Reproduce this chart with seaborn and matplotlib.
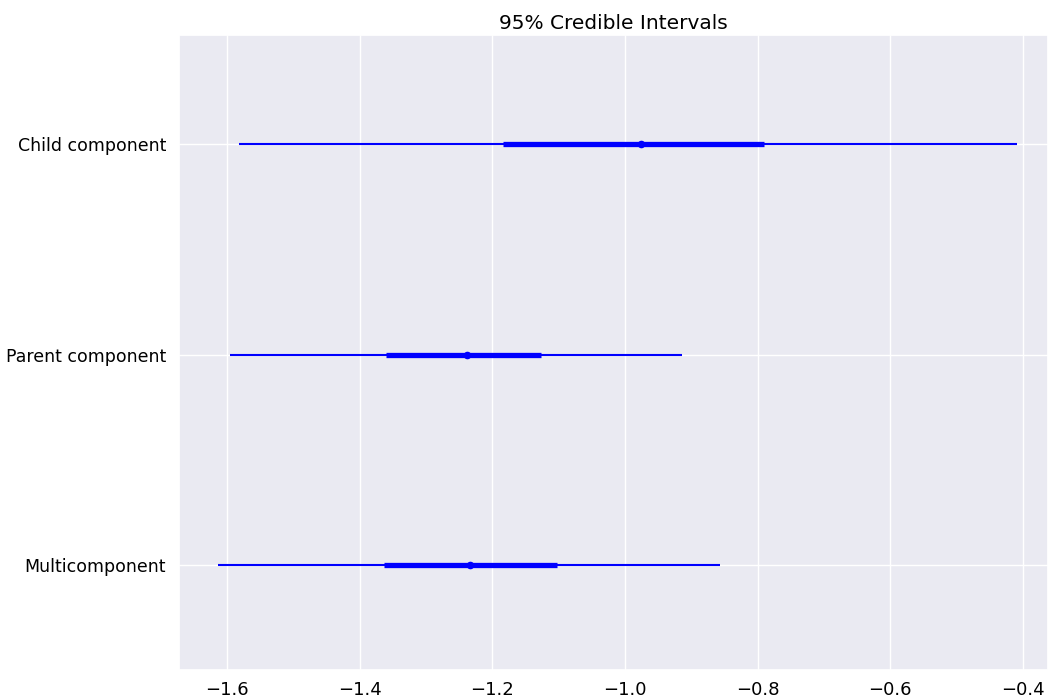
import numpy as np
import pandas as pd
import matplotlib
matplotlib.use("Agg")
import matplotlib.pyplot as plt
import seaborn as sns

# Data (bottom row first)
labels = ["Multicomponent", "Parent component", "Child component"]
median = [-1.233, -1.238, -0.976]
hdi50_low = [-1.363, -1.360, -1.184]
hdi50_high = [-1.102, -1.126, -0.790]
hdi95_low = [-1.614, -1.595, -1.582]
hdi95_high = [-0.856, -0.914, -0.409]

sns.set_theme(style="darkgrid", rc={"text.color": "black", "xtick.color": "black",
                                    "ytick.color": "black", "axes.labelcolor": "black"})
plt.rcParams["font.family"] = ["DejaVu Sans"]

df = pd.DataFrame({
    "label": labels,
    "pos": np.arange(len(labels)),
    "median": median,
    "lo50": hdi50_low,
    "hi50": hdi50_high,
    "lo95": hdi95_low,
    "hi95": hdi95_high,
})

fig = plt.figure(figsize=(10.48, 6.99), dpi=100)
ax = fig.add_axes([0.171, 0.041, 0.829, 0.909])

# intervals: thin = 95%, thick = 50%
ax.hlines(df["pos"], df["lo95"], df["hi95"], color="#0000ff", lw=1.5, zorder=3)
ax.hlines(df["pos"], df["lo50"], df["hi50"], color="#0000ff", lw=3.8, zorder=4)
sns.scatterplot(data=df, x="median", y="pos", color="#0000ff", s=30,
                edgecolor="#0000ff", linewidth=0, zorder=5, ax=ax, legend=False)

ax.set_yticks(df["pos"])
ax.set_yticklabels(df["label"], fontsize=12.5)
ax.set_xticks([-1.6, -1.4, -1.2, -1.0, -0.8, -0.6, -0.4])
ax.tick_params(axis="x", labelsize=13, pad=2)
ax.set_xlim(-1.672, -0.362)
ax.set_ylim(-0.5, 2.52)
ax.set_xlabel("")
ax.set_ylabel("")
ax.set_title("95% Credible Intervals", fontsize=14.5, pad=4)

fig.savefig("out.png", dpi=100)
